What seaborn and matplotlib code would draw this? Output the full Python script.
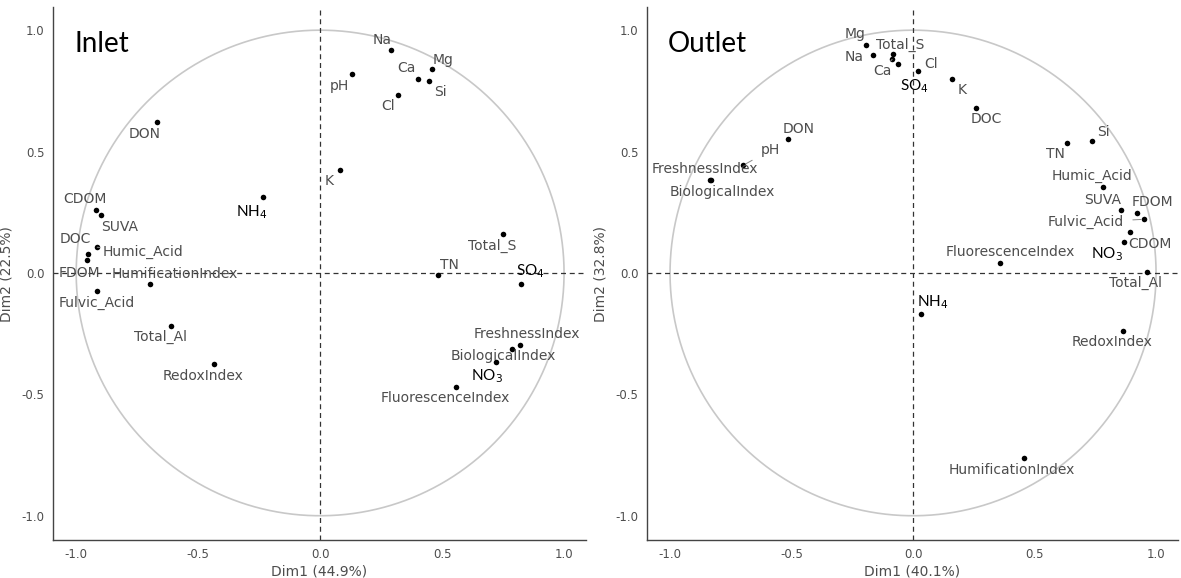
import numpy as np
import pandas as pd
import matplotlib
matplotlib.use("Agg")
import matplotlib.pyplot as plt
import seaborn as sns

# variables shown on both correlation circles
variables = ["pH", "Na", "Mg", "Ca", "K", "Si", "Cl", "SO4", "NH4", "NO3",
             "TN", "DON", "Total_S", "Total_Al", "DOC", "CDOM", "FDOM", "SUVA",
             "Humic_Acid", "Fulvic_Acid", "HumificationIndex",
             "FluorescenceIndex", "FreshnessIndex", "BiologicalIndex",
             "RedoxIndex"]

inlet_dim1 = [0.13, 0.29, 0.46, 0.40, 0.082, 0.447, 0.318, 0.824, -0.235, 0.723,
              0.485, -0.669, 0.749, -0.61, -0.952, -0.919, -0.954, -0.90,
              -0.914, -0.914, -0.697, 0.557, 0.82, 0.786, -0.436]
inlet_dim2 = [0.82, 0.92, 0.84, 0.80, 0.425, 0.79, 0.735, -0.045, 0.314, -0.368,
              -0.01, 0.62, 0.16, -0.22, 0.077, 0.259, 0.053, 0.24,
              0.106, -0.075, -0.045, -0.469, -0.298, -0.315, -0.376]

outlet_dim1 = [-0.70, -0.165, -0.195, -0.086, 0.162, 0.738, 0.02, -0.062, 0.032, 0.868,
               0.635, -0.516, -0.082, 0.964, 0.258, 0.894, 0.92, 0.855,
               0.782, 0.95, 0.457, 0.357, -0.835, -0.830, 0.866]
outlet_dim2 = [0.443, 0.897, 0.938, 0.88, 0.80, 0.543, 0.83, 0.861, -0.17, 0.129,
               0.536, 0.55, 0.90, 0.003, 0.678, 0.17, 0.246, 0.259,
               0.353, 0.221, -0.763, 0.04, 0.383, 0.383, -0.237]

inlet_var = ["Dim1 (44.9%)", "Dim2 (22.5%)"]
outlet_var = ["Dim1 (40.1%)", "Dim2 (32.8%)"]

# label offsets in pixels (dx right, dy down), repel-style
inlet_offsets = {
    "pH": (-12, 12), "Na": (-9, -10), "Mg": (11, -9), "Ca": (-11, -11),
    "K": (-11, 11), "Si": (11, 11), "Cl": (-10, 11), "SO4": (9, -13),
    "NH4": (-11, 15), "NO3": (-10, 14), "TN": (11, -10), "DON": (-12, 12),
    "Total_S": (-11, 12), "Total_Al": (-11, 11), "DOC": (-13, -15),
    "CDOM": (-11, -11), "FDOM": (-8, 13), "SUVA": (19, 12),
    "Humic_Acid": (46, 5), "Fulvic_Acid": (0, 12),
    "HumificationIndex": (25, -10), "FluorescenceIndex": (-11, 11),
    "FreshnessIndex": (7, -11), "BiologicalIndex": (-9, 7),
    "RedoxIndex": (-11, 12),
}
outlet_offsets = {
    "pH": (27, -15), "Na": (-19, 2), "Mg": (-11, -11), "Ca": (-10, 12),
    "K": (10, 11), "Si": (11, -9), "Cl": (13, -7), "SO4": (16, 22),
    "NH4": (12, -12), "NO3": (-17, 13), "TN": (-12, 11), "DON": (11, -10),
    "Total_S": (7, -10), "Total_Al": (-12, 11), "DOC": (11, 11),
    "CDOM": (20, 12), "FDOM": (16, -11), "SUVA": (-18, -10),
    "Humic_Acid": (-11, -11), "Fulvic_Acid": (-58, 3),
    "HumificationIndex": (-12, 12), "FluorescenceIndex": (11, -11),
    "FreshnessIndex": (-5, -11), "BiologicalIndex": (11, 12),
    "RedoxIndex": (-11, 11),
}
inlet_leaders = ["Humic_Acid"]
outlet_leaders = ["pH", "Ca", "Fulvic_Acid"]

ions = {"SO4": "SO$_4$", "NH4": "NH$_4$", "NO3": "NO$_3$"}
TEXT_GREY = "#4d4d4d"


def draw_panel(ax, df, title, axis_titles, offsets, leaders):
    theta = np.linspace(0, 2 * np.pi, 400)
    ax.plot(np.cos(theta), np.sin(theta), color="#c8c8c8", lw=1.2, zorder=1)
    ax.axhline(0, color="#333333", ls=(0, (4, 3)), lw=0.9, zorder=1)
    ax.axvline(0, color="#333333", ls=(0, (4, 3)), lw=0.9, zorder=1)

    sns.scatterplot(data=df, x="Dim1", y="Dim2", ax=ax, color="black",
                    s=16, linewidth=0, zorder=3, legend=False)

    for _, row in df.iterrows():
        name = row["variable"]
        dx, dy = offsets[name]
        arrow = None
        if name in leaders:
            arrow = dict(arrowstyle="-", color="#888888", lw=0.7,
                         shrinkA=4, shrinkB=2)
        if name in ions:
            ax.annotate(ions[name], (row["Dim1"], row["Dim2"]),
                        xytext=(dx, -dy), textcoords="offset pixels",
                        ha="center", va="center", fontsize=11,
                        family=["Lato", "DejaVu Sans"], color="black",
                        arrowprops=arrow, zorder=4)
        else:
            ax.annotate(name, (row["Dim1"], row["Dim2"]),
                        xytext=(dx, -dy), textcoords="offset pixels",
                        ha="center", va="center", fontsize=10,
                        color=TEXT_GREY, arrowprops=arrow, zorder=4)

    ax.text(0.04, 0.955, title, transform=ax.transAxes, fontsize=20,
            family=["Lato", "DejaVu Sans"], color="black", va="top", ha="left")

    ax.set_xlim(-1.095, 1.09)
    ax.set_ylim(-1.1, 1.095)
    ax.set_xticks([-1.0, -0.5, 0.0, 0.5, 1.0])
    ax.set_yticks([-1.0, -0.5, 0.0, 0.5, 1.0])
    ax.set_xticklabels(["-1.0", "-0.5", "0.0", "0.5", "1.0"])
    ax.set_yticklabels(["-1.0", "-0.5", "0.0", "0.5", "1.0"])
    ax.tick_params(length=0, labelsize=8.5, labelcolor=TEXT_GREY, pad=6)
    ax.set_xlabel(axis_titles[0], fontsize=10, color=TEXT_GREY, labelpad=2)
    ax.set_ylabel(axis_titles[1], fontsize=10, color=TEXT_GREY, labelpad=6)
    for side in ["top", "right"]:
        ax.spines[side].set_visible(False)
    for side in ["left", "bottom"]:
        ax.spines[side].set_color("#444444")
        ax.spines[side].set_linewidth(1.0)
    ax.grid(False)


def main():
    sns.set_theme(style="white")
    plt.rcParams["font.family"] = ["DejaVu Sans"]

    inlet = pd.DataFrame({"variable": variables, "Dim1": inlet_dim1,
                          "Dim2": inlet_dim2})
    outlet = pd.DataFrame({"variable": variables, "Dim1": outlet_dim1,
                           "Dim2": outlet_dim2})

    fig = plt.figure(figsize=(11.81, 5.78), dpi=100)
    ax1 = fig.add_axes([0.0449, 0.0657, 0.4513, 0.922])
    ax2 = fig.add_axes([0.5478, 0.0657, 0.4496, 0.922])

    draw_panel(ax1, inlet, "Inlet", inlet_var, inlet_offsets, inlet_leaders)
    draw_panel(ax2, outlet, "Outlet", outlet_var, outlet_offsets, outlet_leaders)

    fig.savefig("out.png", dpi=100)


if __name__ == "__main__":
    main()
